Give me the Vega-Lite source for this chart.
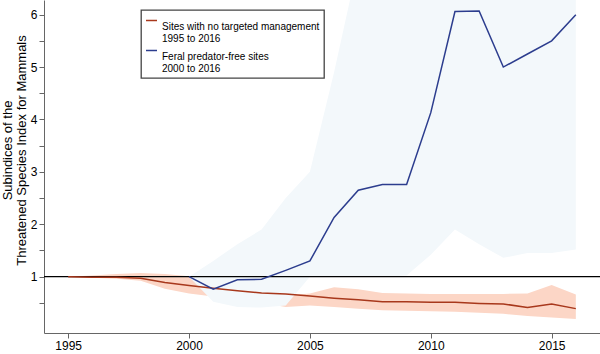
{
  "$schema": "https://vega.github.io/schema/vega-lite/v6.json",
  "width": 556,
  "height": 333,
  "autosize": {"type": "none"},
  "padding": {"left": 44, "top": 0, "right": 0, "bottom": 21},
  "background": "white",
  "config": {
    "view": {"stroke": null},
    "font": "Liberation Sans",
    "axis": {
      "grid": false,
      "domainColor": "#666666",
      "tickColor": "#666666",
      "labelColor": "#000000",
      "labelFontSize": 12,
      "labelFont": "Liberation Sans",
      "titleFont": "Liberation Sans",
      "titleColor": "#000000",
      "titleFontWeight": "normal"
    }
  },
  "data": {
    "values": [
      {"series": "none", "year": 1995, "value": 1.0, "lo": 1.0, "hi": 1.0},
      {"series": "none", "year": 1996, "value": 0.99, "lo": 0.98, "hi": 1.02},
      {"series": "none", "year": 1997, "value": 0.99, "lo": 0.96, "hi": 1.05},
      {"series": "none", "year": 1998, "value": 0.97, "lo": 0.92, "hi": 1.07},
      {"series": "none", "year": 1999, "value": 0.89, "lo": 0.77, "hi": 1.05},
      {"series": "none", "year": 2000, "value": 0.83, "lo": 0.68, "hi": 1.01},
      {"series": "none", "year": 2001, "value": 0.78, "lo": 0.62, "hi": 0.95},
      {"series": "none", "year": 2002, "value": 0.73, "lo": 0.57, "hi": 0.9},
      {"series": "none", "year": 2003, "value": 0.69, "lo": 0.5, "hi": 0.84},
      {"series": "none", "year": 2004, "value": 0.67, "lo": 0.42, "hi": 0.64},
      {"series": "none", "year": 2005, "value": 0.63, "lo": 0.45, "hi": 0.68},
      {"series": "none", "year": 2006, "value": 0.59, "lo": 0.42, "hi": 0.8},
      {"series": "none", "year": 2007, "value": 0.56, "lo": 0.39, "hi": 0.76},
      {"series": "none", "year": 2008, "value": 0.52, "lo": 0.36, "hi": 0.69},
      {"series": "none", "year": 2009, "value": 0.52, "lo": 0.35, "hi": 0.68},
      {"series": "none", "year": 2010, "value": 0.51, "lo": 0.34, "hi": 0.67},
      {"series": "none", "year": 2011, "value": 0.51, "lo": 0.33, "hi": 0.67},
      {"series": "none", "year": 2012, "value": 0.49, "lo": 0.31, "hi": 0.67},
      {"series": "none", "year": 2013, "value": 0.48, "lo": 0.29, "hi": 0.67},
      {"series": "none", "year": 2014, "value": 0.41, "lo": 0.25, "hi": 0.68},
      {"series": "none", "year": 2015, "value": 0.48, "lo": 0.22, "hi": 0.84},
      {"series": "none", "year": 2016, "value": 0.39, "lo": 0.19, "hi": 0.66},
      {"series": "free", "year": 2000, "value": 1.0, "lo": 1.0, "hi": 1.0},
      {"series": "free", "year": 2001, "value": 0.76, "lo": 0.52, "hi": 1.3},
      {"series": "free", "year": 2002, "value": 0.94, "lo": 0.42, "hi": 1.62},
      {"series": "free", "year": 2003, "value": 0.95, "lo": 0.41, "hi": 1.9},
      {"series": "free", "year": 2004, "value": 1.12, "lo": 0.45, "hi": 2.5},
      {"series": "free", "year": 2005, "value": 1.3, "lo": 1.0, "hi": 3.0},
      {"series": "free", "year": 2006, "value": 2.13, "lo": 1.0, "hi": 4.9},
      {"series": "free", "year": 2007, "value": 2.65, "lo": 1.0, "hi": 7.0},
      {"series": "free", "year": 2008, "value": 2.76, "lo": 1.0, "hi": 9.0},
      {"series": "free", "year": 2009, "value": 2.76, "lo": 1.02, "hi": 10.0},
      {"series": "free", "year": 2010, "value": 4.13, "lo": 1.42, "hi": 12.0},
      {"series": "free", "year": 2011, "value": 6.06, "lo": 1.9, "hi": 14.0},
      {"series": "free", "year": 2012, "value": 6.07, "lo": 1.62, "hi": 14.0},
      {"series": "free", "year": 2013, "value": 5.0, "lo": 1.36, "hi": 13.0},
      {"series": "free", "year": 2014, "value": 5.25, "lo": 1.45, "hi": 13.0},
      {"series": "free", "year": 2015, "value": 5.5, "lo": 1.45, "hi": 14.0},
      {"series": "free", "year": 2016, "value": 6.0, "lo": 1.52, "hi": 14.0}
    ]
  },
  "layer": [
    {
      "transform": [{"filter": "datum.series === 'none'"}],
      "mark": {"type": "area", "color": "#fcd6c6", "opacity": 1, "clip": true},
      "encoding": {
        "x": {
          "field": "year", "type": "quantitative",
          "scale": {"domain": [1994, 2017], "nice": false, "zero": false},
          "axis": {"title": null, "values": [1995, 2000, 2005, 2010, 2015], "tickCount": 20, "format": "d", "tickSize": 5, "labelPadding": 2}
        },
        "y": {
          "field": "lo", "type": "quantitative",
          "scale": {"domain": [-0.075, 6.28], "nice": false, "zero": false},
          "axis": {
            "title": ["Subindices of the", "Threatened Species Index for Mammals"],
            "titleFontSize": 13,
            "titleLineHeight": 14.5,
            "titleAngle": -90,
            "titleBaseline": "bottom",
            "titleX": -30,
            "titleY": 150,
            "values": [0.5, 1, 1.5, 2, 2.5, 3, 3.5, 4, 4.5, 5, 5.5, 6],
            "tickCount": 30,
            "labelExpr": "floor(datum.value) == datum.value ? format(datum.value, 'd') : ''",
            "labelOverlap": false,
            "tickSize": 5,
            "labelPadding": 2
          }
        },
        "y2": {"field": "hi"}
      }
    },
    {
      "transform": [{"filter": "datum.series === 'free'"}],
      "mark": {"type": "area", "color": "#f3f8fb", "opacity": 1, "clip": true},
      "encoding": {
        "x": {"field": "year", "type": "quantitative"},
        "y": {"field": "lo", "type": "quantitative"},
        "y2": {"field": "hi"}
      }
    },
    {
      "data": {"values": [{"ref": 1}]},
      "mark": {"type": "rule", "color": "#000000", "strokeWidth": 1.2},
      "encoding": {"y": {"field": "ref", "type": "quantitative"}}
    },
    {
      "mark": {"type": "line", "strokeWidth": 1.5, "clip": true},
      "encoding": {
        "x": {"field": "year", "type": "quantitative"},
        "y": {"field": "value", "type": "quantitative"},
        "color": {
          "field": "series", "type": "nominal",
          "scale": {"domain": ["none", "free"], "range": ["#a8381c", "#2c3d8e"]},
          "legend": {
            "orient": "none",
            "legendX": 97,
            "legendY": 10,
            "title": null,
            "padding": 4,
            "strokeColor": "#444444",
            "fillColor": "white",
            "symbolType": "stroke",
            "symbolSize": 121,
            "symbolStrokeWidth": 1.5,
            "labelFontSize": 10,
            "labelFont": "Liberation Sans",
            "labelColor": "#000000",
            "labelLimit": 0,
            "labelOffset": 4,
            "rowPadding": 0,
            "labelBaseline": "middle",
            "labelExpr": "datum.value == 'none' ? ['Sites with no targeted management', '1995 to 2016'] : ['Feral predator-free sites', '2000 to 2016']",
            "encode": {
              "labels": {"update": {"dy": {"value": 6}, "lineHeight": {"value": 12}}},
              "legend": {"update": {"strokeWidth": {"value": 1.3}}}
            }
          }
        }
      }
    }
  ]
}
